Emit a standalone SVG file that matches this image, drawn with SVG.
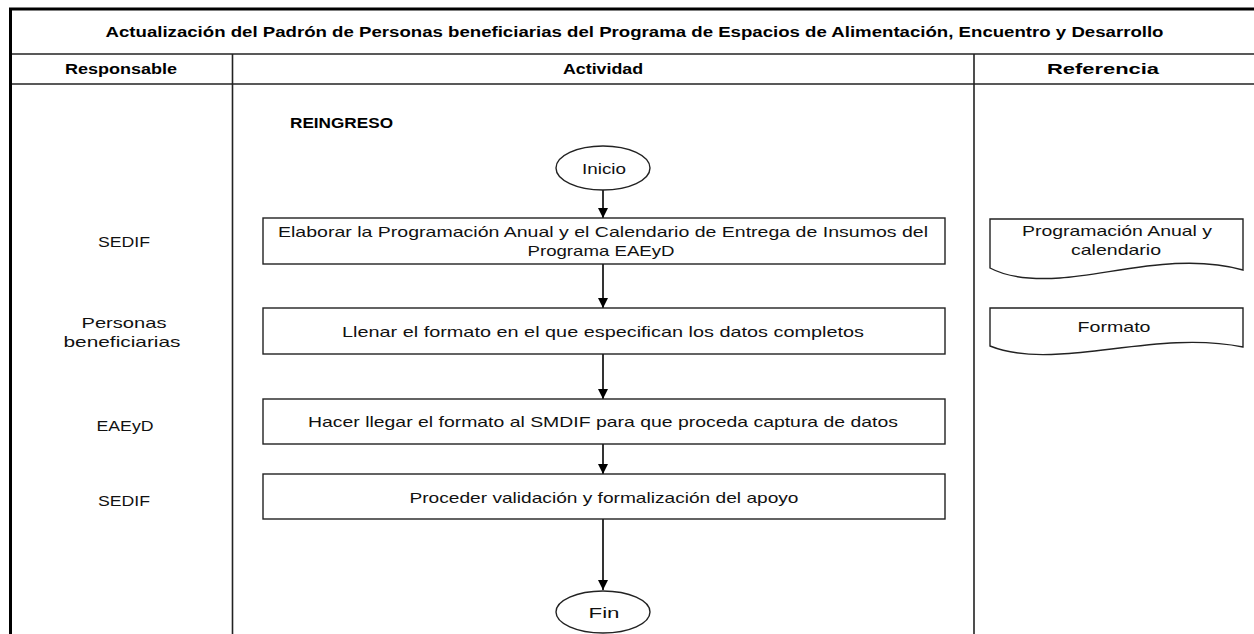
<svg xmlns="http://www.w3.org/2000/svg" width="1254" height="634" viewBox="0 0 1254 634">
<style>
.hdr{font-family:"Liberation Sans",Arial,sans-serif;font-weight:bold;font-size:14px;fill:#000;text-anchor:middle}
.t{font-family:"Liberation Sans",Arial,sans-serif;font-size:15px;fill:#111;text-anchor:middle}
.grid{stroke:#222;stroke-width:1.6;fill:none}
.box{fill:#fff;stroke:#222;stroke-width:1.4}
.conn{stroke:#000;stroke-width:1.6;fill:none}
</style>
<defs>
<marker id="arr" viewBox="0 0 10 10" refX="10" refY="5" markerWidth="10" markerHeight="10" markerUnits="userSpaceOnUse" orient="auto">
<path d="M0,0 L10,5 L0,10 Z" fill="#000"/>
</marker>
</defs>
<rect width="1254" height="634" fill="#fff"/>
<g id="table">
<line x1="9" y1="9" x2="1254" y2="9" stroke="#000" stroke-width="3"/>
<line x1="10.5" y1="8" x2="10.5" y2="634" stroke="#000" stroke-width="3"/>
<line class="grid" x1="12" y1="54" x2="1254" y2="54"/>
<line class="grid" x1="12" y1="84" x2="1254" y2="84"/>
<line class="grid" x1="232.5" y1="54" x2="232.5" y2="634"/>
<line class="grid" x1="974" y1="54" x2="974" y2="634"/>
<text class="hdr" x="634.5" y="37" textLength="1058" lengthAdjust="spacingAndGlyphs">Actualización del Padrón de Personas beneficiarias del Programa de Espacios de Alimentación, Encuentro y Desarrollo</text>
<text class="hdr" x="121" y="74" textLength="112" lengthAdjust="spacingAndGlyphs">Responsable</text>
<text class="hdr" x="603" y="74" textLength="80" lengthAdjust="spacingAndGlyphs">Actividad</text>
<text class="hdr" x="1103" y="74" textLength="112" lengthAdjust="spacingAndGlyphs">Referencia</text>
<text class="hdr" x="290" y="128" style="text-anchor:start" textLength="103" lengthAdjust="spacingAndGlyphs">REINGRESO</text>
</g>
<g id="responsables">
<text class="t" x="124" y="247" textLength="52" lengthAdjust="spacingAndGlyphs">SEDIF</text>
<text class="t" x="124" y="328" textLength="85" lengthAdjust="spacingAndGlyphs">Personas</text>
<text class="t" x="122" y="347" textLength="117" lengthAdjust="spacingAndGlyphs">beneficiarias</text>
<text class="t" x="125" y="431" textLength="57" lengthAdjust="spacingAndGlyphs">EAEyD</text>
<text class="t" x="124" y="506" textLength="52" lengthAdjust="spacingAndGlyphs">SEDIF</text>
</g>
<g id="connectors">
<line class="conn" x1="603" y1="190" x2="603" y2="218" marker-end="url(#arr)"/>
<line class="conn" x1="603" y1="264" x2="603" y2="308" marker-end="url(#arr)"/>
<line class="conn" x1="603" y1="354" x2="603" y2="399" marker-end="url(#arr)"/>
<line class="conn" x1="603" y1="444" x2="603" y2="474" marker-end="url(#arr)"/>
<line class="conn" x1="603" y1="519" x2="603" y2="590" marker-end="url(#arr)"/>
</g>
<g id="inicio">
<ellipse class="box" cx="603" cy="168" rx="47" ry="22"/>
<text class="t" x="604" y="174" textLength="44" lengthAdjust="spacingAndGlyphs">Inicio</text>
</g>
<g id="paso1">
<rect class="box" x="263" y="218" width="682" height="46"/>
<text class="t" x="603" y="237" textLength="650" lengthAdjust="spacingAndGlyphs">Elaborar la Programación Anual y el Calendario de Entrega de Insumos del</text>
<text class="t" x="601" y="256" textLength="147" lengthAdjust="spacingAndGlyphs">Programa EAEyD</text>
</g>
<g id="paso2">
<rect class="box" x="263" y="308" width="682" height="46"/>
<text class="t" x="603" y="337" textLength="522" lengthAdjust="spacingAndGlyphs">Llenar el formato en el que especifican los datos completos</text>
</g>
<g id="paso3">
<rect class="box" x="263" y="399" width="682" height="45"/>
<text class="t" x="603" y="427" textLength="590" lengthAdjust="spacingAndGlyphs">Hacer llegar el formato al SMDIF para que proceda captura de datos</text>
</g>
<g id="paso4">
<rect class="box" x="263" y="474" width="682" height="45"/>
<text class="t" x="604" y="503" textLength="389" lengthAdjust="spacingAndGlyphs">Proceder validación y formalización del apoyo</text>
</g>
<g id="fin">
<ellipse class="box" cx="603" cy="612" rx="47" ry="21"/>
<text class="t" x="604" y="618" textLength="31" lengthAdjust="spacingAndGlyphs">Fin</text>
</g>
<g id="ref1">
<path class="box" d="M990,219 H1243 V270 C1180,252 1110,275 1060,278 C1030,280 1005,276 990,268 Z"/>
<text class="t" x="1117" y="236" textLength="190" lengthAdjust="spacingAndGlyphs">Programación Anual y</text>
<text class="t" x="1116" y="255" textLength="90" lengthAdjust="spacingAndGlyphs">calendario</text>
</g>
<g id="ref2">
<path class="box" d="M990,308 H1243 V347 C1180,334 1110,352 1060,354 C1030,356 1005,352 990,346 Z"/>
<text class="t" x="1114" y="332" textLength="73" lengthAdjust="spacingAndGlyphs">Formato</text>
</g>
</svg>
